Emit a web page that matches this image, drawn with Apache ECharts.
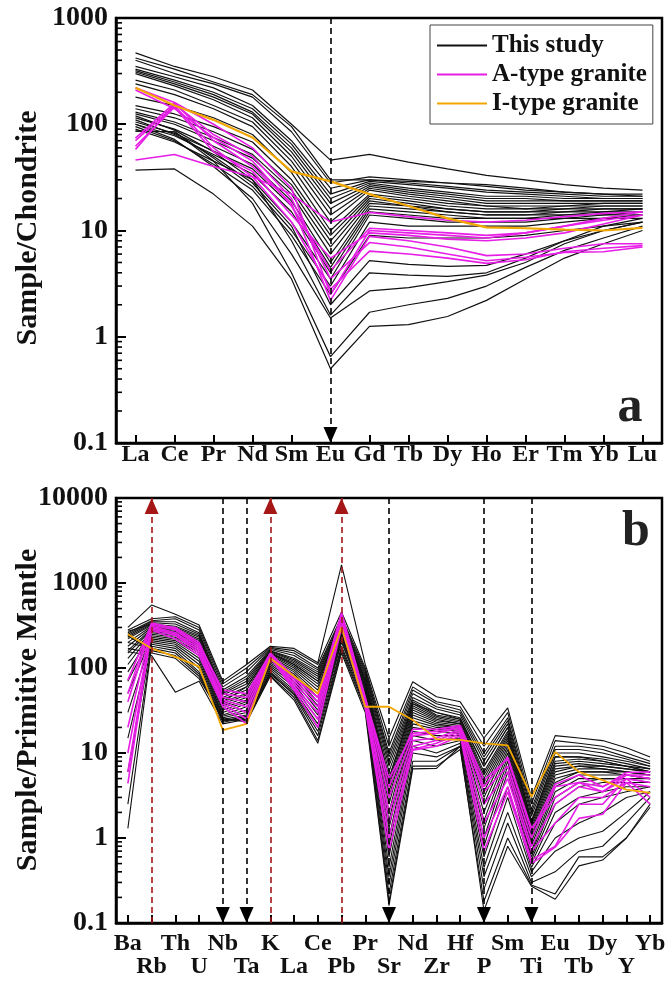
<!DOCTYPE html>
<html>
<head>
<meta charset="utf-8">
<script src="https://cdn.jsdelivr.net/npm/echarts@6/dist/echarts.min.js"></script>
<style>
html,body{margin:0;padding:0;background:#fff;}
#c{width:669px;height:987px;}
</style>
</head>
<body>
<div id="c"></div>
<script>
// ---------- categories ----------
const REE = ['La','Ce','Pr','Nd','Sm','Eu','Gd','Tb','Dy','Ho','Er','Tm','Yb','Lu'];
const PM = ['Ba','Rb','Th','U','Nb','Ta','K','La','Ce','Pb','Pr','Sr','Nd','Zr','Hf','P','Sm','Ti','Eu','Tb','Dy','Y','Yb'];

// ---------- panel a : chondrite-normalised REE ----------
const studyREE = [
  [470,350,280,210,100,46,52,44,38,33,30,27,25,24],
  [420,330,250,190,95,30,30,29,28,27,25,23,22,22],
  [400,300,240,180,85,28,32,30,28,26,24,23,22,21],
  [350,280,220,150,70,25,30,28,26,24,23,22,21,21],
  [330,260,200,140,65,22,29,27,25,23,22,21,20,20],
  [320,250,190,130,60,20,28,25,23,21,21,20,20,20],
  [310,240,180,125,55,18,27,24,22,20,20,19,19,19],
  [300,230,170,115,50,16,26,23,21,19,19,19,19,19],
  [260,210,150,105,45,14,25,22,20,18,18,18,18,18],
  [240,190,140,95,40,12,24,21,19,17,17,17,18,18],
  [180,150,115,80,35,10,22,20,18,17,16,17,17,17],
  [150,125,95,68,30,9,21,19,17,16,16,16,17,17],
  [140,115,85,58,27,8,20,18,16,15,15,16,16,16],
  [130,105,75,52,24,7,19,17,16,15,15,15,16,16],
  [125,100,70,48,22,6,18,17,15,14,14,15,15,16],
  [115,90,62,42,19,5,17,16,15,14,14,14,15,15],
  [105,82,56,38,17,4.5,16,15,14,13,13,14,14,15],
  [100,78,52,34,15,4,15,14,13,13,13,13,14,14],
  [90,68,45,30,12,3.5,14,13,12,12,12,13,13,14],
  [86,85,48,26,10,3,12,11,11,11,11,12,13,13],
  [95,70,42,24,9,2.5,9,8.5,8.5,8.5,9,10,11,12],
  [110,80,50,28,11,2,5.2,4.8,4.6,4.7,6,8,10,12],
  [120,88,55,30,8,1.6,4,3.8,3.7,4,5.5,8,11,13],
  [100,72,40,20,6,1.5,2.7,2.9,3.3,3.8,5,7.5,10,12],
  [86,85,45,18,4,0.65,1.7,2.0,2.3,3.0,4.5,6.5,8.5,11],
  [37,38,22,11,3.5,0.5,1.25,1.3,1.55,2.2,3.5,5.5,7.5,10]
];
const aTypeREE = [
  [220,160,100,60,25,2.5,10,9.5,9,8.5,9.5,11,13,15],
  [74,158,70,40,18,2.2,8.8,8,7,5.8,6,6.8,7.5,7.5],
  [58,155,80,50,20,3.5,7.7,7,6,5.2,5.6,6.2,6.3,7],
  [46,52,40,32,22,12,14.8,13.5,12.5,12,12.5,13.5,14.5,15],
  [210,140,75,45,17,4.2,10.5,10,9.5,9,9.5,11,12.5,14],
  [70,150,60,32,12,2.8,6.4,6,5.5,4.9,5.3,6.3,6.8,7.2],
  [62,145,55,36,14,5.5,9.5,9,8.3,8,8.5,9.5,11.5,14]
];
const iTypeREE = [220,150,110,75,36,29,22,17,13,10.7,10.5,10.2,10,10.6];

// ---------- panel b : primitive-mantle-normalised ----------
const studyPM = [
  [300,550,430,320,70,110,180,170,115,1630,110,15,69,46,40,15,34,3,16,15,14,11.5,9],
  [280,380,400,300,65,100,175,160,110,455,100,12,60,40,35,12,30,2.5,14,13,12,10,8],
  [260,360,380,280,60,90,170,150,100,400,95,10,55,38,32,10,26,2.2,12,12,11,9,7.5],
  [250,350,350,260,55,80,165,140,95,380,90,9,50,35,30,9,24,2,11,11,10,8.5,7],
  [240,340,330,250,52,75,160,130,90,360,85,8,45,33,28,8,22,1.8,10,10,9,8,7],
  [230,330,310,240,50,70,158,125,85,350,80,7,42,30,26,7,20,1.6,9,9,8.5,7.5,6.5],
  [220,320,300,230,48,65,155,120,80,340,75,6,40,28,25,6,18,1.5,8,8.5,8,7,6.5],
  [200,310,290,220,45,60,150,115,75,330,72,5,38,27,24,5.5,17,1.4,7.5,8,7.5,7,6],
  [180,300,280,210,43,55,148,110,70,320,70,4.5,36,26,23,5,16,1.3,7,7.5,7,6.5,6],
  [160,290,270,200,40,50,145,105,65,310,68,4,34,25,22,4.5,15,1.2,6.5,7,7,6.5,6],
  [150,280,260,190,38,48,140,100,60,300,65,3.5,32,24,22,4,14,1.1,6,7,6.5,6,5.5],
  [130,270,250,180,36,45,135,95,55,290,62,3,30,23,21,3.5,13,1.0,5.5,6.5,6.5,6,5.5],
  [110,260,240,170,34,42,130,90,50,280,60,2.5,28,22,20,3,12,0.9,5,6,6,6,5.5],
  [90,250,230,160,32,40,125,85,45,270,58,2,26,21,20,2.5,11,0.8,4.5,6,6,5.5,5],
  [70,240,220,150,30,38,120,80,40,260,55,1.6,24,20,19,2,10,0.7,4,5.5,5.5,5.5,5],
  [50,230,210,140,28,35,115,75,36,250,52,1.3,22,19,18,1.6,9,0.65,3.5,5,5,5,5],
  [30,220,200,130,27,32,110,70,32,240,50,1.0,20,18,17,1.3,8,0.6,3,4.5,5,5,4.5],
  [15,210,190,120,26,30,105,65,28,230,48,0.8,18,16,16,1.0,7,0.55,2.5,4,4.5,4.5,4.5],
  [6,200,180,110,25,28,100,60,25,220,45,0.6,16,14,15,0.8,6,0.5,2,3,3.5,4,4],
  [2.5,190,170,100,24,27,95,55,22,210,42,0.45,14,12,14,0.6,4,0.45,1.5,2.5,3,3.5,4],
  [1.3,180,160,90,23,26,90,52,20,200,40,0.35,12,10,13,0.45,3,0.4,1.0,1.5,2,3,3.5],
  [155,140,52,70,22,25,85,50,18,180,38,0.28,10,9,12,0.35,2,0.35,0.7,1.0,1.2,2,3.5],
  [200,170,150,85,24,25,88,48,16,170,35,0.22,8,8,12,0.25,1.5,0.3,0.4,0.7,0.8,1.5,3],
  [240,160,140,80,25,24,82,45,14,160,33,0.18,7,7,11,0.18,1.0,0.28,0.22,0.6,0.6,1.0,2.5],
  [170,150,130,75,26,23,80,42,13,150,30,0.16,6.5,6.6,12,0.14,0.8,0.27,0.19,0.47,0.55,1.0,2.3],
  [270,330,260,190,40,60,150,110,70,330,70,5,38,30,25,7,20,1.5,9,9,8,7,6]
];
const aTypePM = [
  [72,330,300,200,50,45,150,75,45,450,45,4,19,19,21,4.8,8.5,1.2,4.3,5.5,4,5.9,6],
  [40,320,280,180,45,40,145,70,40,400,42,3,16,17,20,3.5,7,1.0,4,4.5,4,5.5,5],
  [20,310,260,170,42,35,140,65,35,380,40,2,14,15,19,2.5,6,0.8,2.5,4,3.5,5,4.5],
  [10,300,250,160,40,30,138,60,30,350,38,1.5,12,14,18,1.5,5,0.7,1.5,3,3,4.5,4],
  [6,290,240,150,38,25,135,58,25,320,36,1.0,11,13,17,1.0,4,0.55,0.8,2.5,2.5,5,3],
  [4.4,280,220,140,35,22,132,55,20,300,34,0.7,10.8,12,16,0.7,3.5,0.5,0.78,1.7,1.9,4.5,2.5],
  [50,340,290,190,55,50,148,80,45,420,44,5,17,18,20,4,9,1.3,3,4.5,3.5,5.5,5.5]
];
const iTypePM = [250,170,135,104,18.6,22,130,80,50,303,35,35,24.5,14.6,14.3,13,12.3,3.06,10.3,6.0,4.8,3.7,3.4];

// anomaly markers
const downArrowsA = ['Eu'];
const downArrowsB = ['Nb','Ta','Sr','P','Ti'];
const upArrowsB = ['Rb','K','Pb'];

// axis ranges / ticks
const yRangeA = [0.1, 1000];
const yRangeB = [0.1, 10000];
const mantissas = [2,3,4,5,6,7,8,9];
const decadesA = [0.1,1,10,100];
const decadesB = [0.1,1,10,100,1000];

const FONT = "'Liberation Serif','Times New Roman',serif";
const BLACK = '#111';
const MAG = '#e61ee6';
const ORA = '#f2a600';
const RED = '#a51616';

const chart = echarts.init(document.getElementById('c'), null, {renderer:'canvas'});

const grids = [
  {left:116, right:7, top:18, height:425, show:true, borderColor:'#000', borderWidth:2.5},
  {left:116, right:7, top:498, height:425, show:true, borderColor:'#000', borderWidth:2.5}
];

function xAxisCfg(gi, cats, twoRow){
  return {
    type:'category', gridIndex:gi, data:cats, boundaryGap:true,
    axisLine:{show:true, lineStyle:{color:'#000', width:2.5}},
    axisTick:{show:true, interval:0, inside:true, alignWithLabel:true, length:8, lineStyle:{color:'#000', width:2}},
    axisLabel:{
      interval:0, margin: twoRow ? 9 : 0, color:'#111',
      fontFamily:FONT, fontWeight:'bold', fontSize:24, lineHeight:23,
      formatter: twoRow ? (v,i)=> (i%2===0 ? v+'\n ' : ' \n'+v) : (v=>v)
    },
    splitLine:{show:false}
  };
}
function yAxisCfg(gi, range){
  return {
    type:'log', logBase:10, gridIndex:gi, min:range[0], max:range[1],
    axisLine:{show:true, lineStyle:{color:'#000', width:2.5}},
    axisTick:{show:true, inside:true, length:10, lineStyle:{color:'#000', width:2}},
    axisLabel:{color:'#111', fontFamily:FONT, fontWeight:'bold', fontSize:28, margin:8,
      formatter:v=> v<1 ? (+v).toFixed(1) : String(Math.round(v))},
    splitLine:{show:false}
  };
}

const series = [];
function addLines(arr, name, color, width, xi, z){
  arr.forEach(d=>series.push({type:'line', name, data:d, xAxisIndex:xi, yAxisIndex:xi,
    symbol:'none', lineStyle:{color, width}, itemStyle:{color}, z, silent:true}));
}
addLines(studyREE,'This study',BLACK,1.2,0,2);
addLines(aTypeREE,'A-type granite',MAG,1.6,0,3);
addLines([iTypeREE],'I-type granite',ORA,2.2,0,4);
addLines(studyPM,'This study',BLACK,1.1,1,2);
addLines(aTypePM,'A-type granite',MAG,1.6,1,3);
addLines([iTypePM],'I-type granite',ORA,1.8,1,4);

function markSeries(gi, cats, from, to, color){
  return {type:'line', xAxisIndex:gi, yAxisIndex:gi, data:[], silent:true, z:6,
    markLine:{silent:true, animation:false, symbol:['none','triangle'], symbolSize:[14,16],
      symbolOffset:[0,[0,8]],
      label:{show:false}, lineStyle:{type:[6,4], color, width:1.6},
      emphasis:{disabled:true},
      data: cats.map(c=>[{coord:[c, from], symbol:'none'}, {coord:[c, to], symbol:'triangle', itemStyle:{color}}])
    }};
}
series.push(markSeries(0, downArrowsA, yRangeA[1], yRangeA[0], '#000'));
series.push(markSeries(1, downArrowsB, yRangeB[1], yRangeB[0], '#000'));
series.push(markSeries(1, upArrowsB, yRangeB[0], yRangeB[1], RED));

const textGraphics = [
  {type:'text', x:28, y:228, rotation:Math.PI/2, style:{text:'Sample/Chondrite', font:"bold 30px 'Liberation Serif'", fill:'#111', align:'center', verticalAlign:'middle'}},
  {type:'text', x:28, y:710, rotation:Math.PI/2, style:{text:'Sample/Primitive Mantle', font:"bold 30px 'Liberation Serif'", fill:'#111', align:'center', verticalAlign:'middle'}},
  {type:'text', x:630, y:408, style:{text:'a', font:"bold 50px 'Liberation Serif'", fill:'#222', align:'center', verticalAlign:'middle'}},
  {type:'text', x:636, y:532, style:{text:'b', font:"bold 50px 'Liberation Serif'", fill:'#222', align:'center', verticalAlign:'middle'}}
];

chart.setOption({
  animation:false,
  backgroundColor:'#fff',
  grid:grids,
  xAxis:[xAxisCfg(0, REE, false), xAxisCfg(1, PM, true)],
  yAxis:[yAxisCfg(0, yRangeA), yAxisCfg(1, yRangeB)],
  legend:{
    data:['This study','A-type granite','I-type granite'],
    left:430, top:25, orient:'vertical', icon:'rect', itemWidth:50, itemHeight:2, itemGap:4,
    padding:[8,6,8,7], borderColor:'#444', borderWidth:1, backgroundColor:'#fff',
    selectedMode:false,
    textStyle:{fontFamily:FONT, fontWeight:'bold', fontSize:25, lineHeight:25, color:'#111'}
  },
  graphic:textGraphics,
  series
});

// log-spaced minor ticks on the left axes, positioned through the library's own scales
const minorGraphics = [];
[[0, decadesA],[1, decadesB]].forEach(([gi, decs])=>{
  decs.forEach(d=>mantissas.forEach(m=>{
    const y = chart.convertToPixel({yAxisIndex:gi}, d*m);
    const x0 = grids[gi].left;
    minorGraphics.push({type:'line', z:100,
      shape:{x1:x0, y1:y, x2:x0+6, y2:y}, style:{stroke:'#000', lineWidth:1.6}});
  }));
});
chart.setOption({graphic: textGraphics.concat(minorGraphics)});
</script>
</body>
</html>
